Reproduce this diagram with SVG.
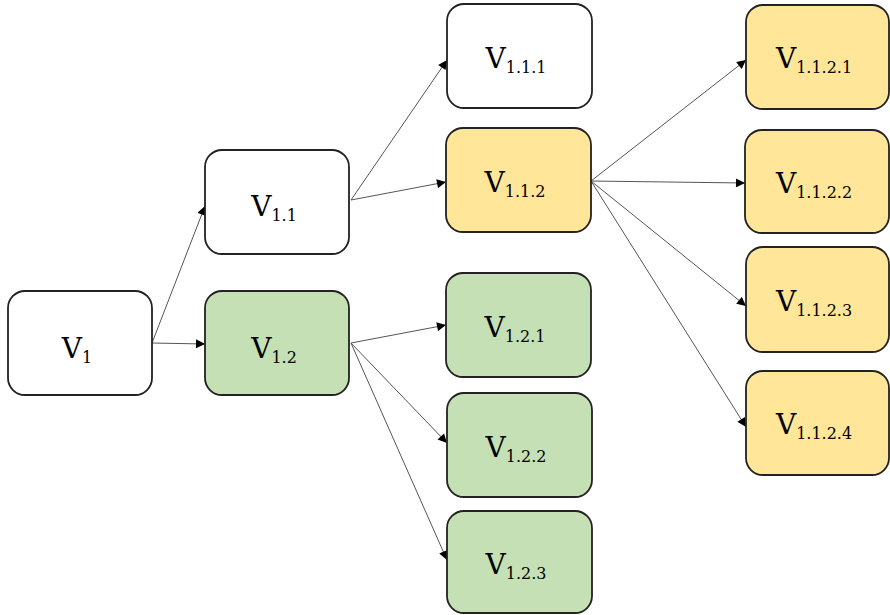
<svg xmlns="http://www.w3.org/2000/svg" width="890" height="615" viewBox="0 0 890 615">
<defs>
<marker id="ah" viewBox="0 0 10 10" refX="10" refY="5" markerWidth="10" markerHeight="9" markerUnits="userSpaceOnUse" orient="auto">
<path d="M0,0 L10,5 L0,10 z" fill="#000"/>
</marker>
<style>
.box{stroke:#222;stroke-width:1.8}
.w{fill:#fff}
.y{fill:#FFE699}
.g{fill:#C5E0B4}
.lbl{font-family:"DejaVu Serif","Liberation Serif",serif;font-size:28px;fill:#000;text-anchor:middle}
.sub{font-size:16px}
.c line{stroke:#555;stroke-width:1;marker-end:url(#ah)}
</style>
</defs>
<rect width="890" height="615" fill="#fff"/>
<g class="c" id="connectors">
<line x1="152" y1="343" x2="205" y2="206"/>
<line x1="152" y1="343" x2="205" y2="344"/>
<line x1="351" y1="200" x2="447" y2="60"/>
<line x1="351" y1="200" x2="446" y2="182"/>
<line x1="351" y1="343" x2="446" y2="325"/>
<line x1="351" y1="343" x2="447" y2="443"/>
<line x1="351" y1="343" x2="447" y2="560"/>
<line x1="591" y1="181" x2="746" y2="60"/>
<line x1="591" y1="181" x2="745" y2="183"/>
<line x1="591" y1="181" x2="746" y2="306"/>
<line x1="591" y1="181" x2="746" y2="427"/>
</g>
<g id="v1"><rect class="box w" x="8" y="291" width="144" height="104" rx="17"/><text class="lbl" x="77" y="358">V<tspan class="sub" dy="5">1</tspan></text></g>
<g id="v1_1"><rect class="box w" x="205" y="150" width="144" height="104" rx="17"/><text class="lbl" x="274" y="216">V<tspan class="sub" dy="5">1.1</tspan></text></g>
<g id="v1_2"><rect class="box g" x="205" y="291" width="144" height="104" rx="17"/><text class="lbl" x="274" y="358">V<tspan class="sub" dy="5">1.2</tspan></text></g>
<g id="v1_1_1"><rect class="box w" x="447" y="4" width="145" height="104" rx="17"/><text class="lbl" x="516" y="68">V<tspan class="sub" dy="5">1.1.1</tspan></text></g>
<g id="v1_1_2"><rect class="box y" x="446" y="128" width="145" height="104" rx="17"/><text class="lbl" x="515" y="192">V<tspan class="sub" dy="5">1.1.2</tspan></text></g>
<g id="v1_2_1"><rect class="box g" x="446" y="273" width="145" height="104" rx="17"/><text class="lbl" x="515" y="337">V<tspan class="sub" dy="5">1.2.1</tspan></text></g>
<g id="v1_2_2"><rect class="box g" x="447" y="393" width="145" height="104" rx="17"/><text class="lbl" x="516" y="457">V<tspan class="sub" dy="5">1.2.2</tspan></text></g>
<g id="v1_2_3"><rect class="box g" x="447" y="511" width="145" height="102" rx="17"/><text class="lbl" x="516" y="574">V<tspan class="sub" dy="5">1.2.3</tspan></text></g>
<g id="v1_1_2_1"><rect class="box y" x="746" y="5" width="143" height="104" rx="17"/><text class="lbl" x="814" y="68">V<tspan class="sub" dy="5">1.1.2.1</tspan></text></g>
<g id="v1_1_2_2"><rect class="box y" x="745" y="130" width="144" height="103" rx="17"/><text class="lbl" x="814" y="193">V<tspan class="sub" dy="5">1.1.2.2</tspan></text></g>
<g id="v1_1_2_3"><rect class="box y" x="746" y="247" width="143" height="105" rx="17"/><text class="lbl" x="814" y="311">V<tspan class="sub" dy="5">1.1.2.3</tspan></text></g>
<g id="v1_1_2_4"><rect class="box y" x="746" y="371" width="143" height="104" rx="17"/><text class="lbl" x="814" y="434">V<tspan class="sub" dy="5">1.1.2.4</tspan></text></g>
</svg>
